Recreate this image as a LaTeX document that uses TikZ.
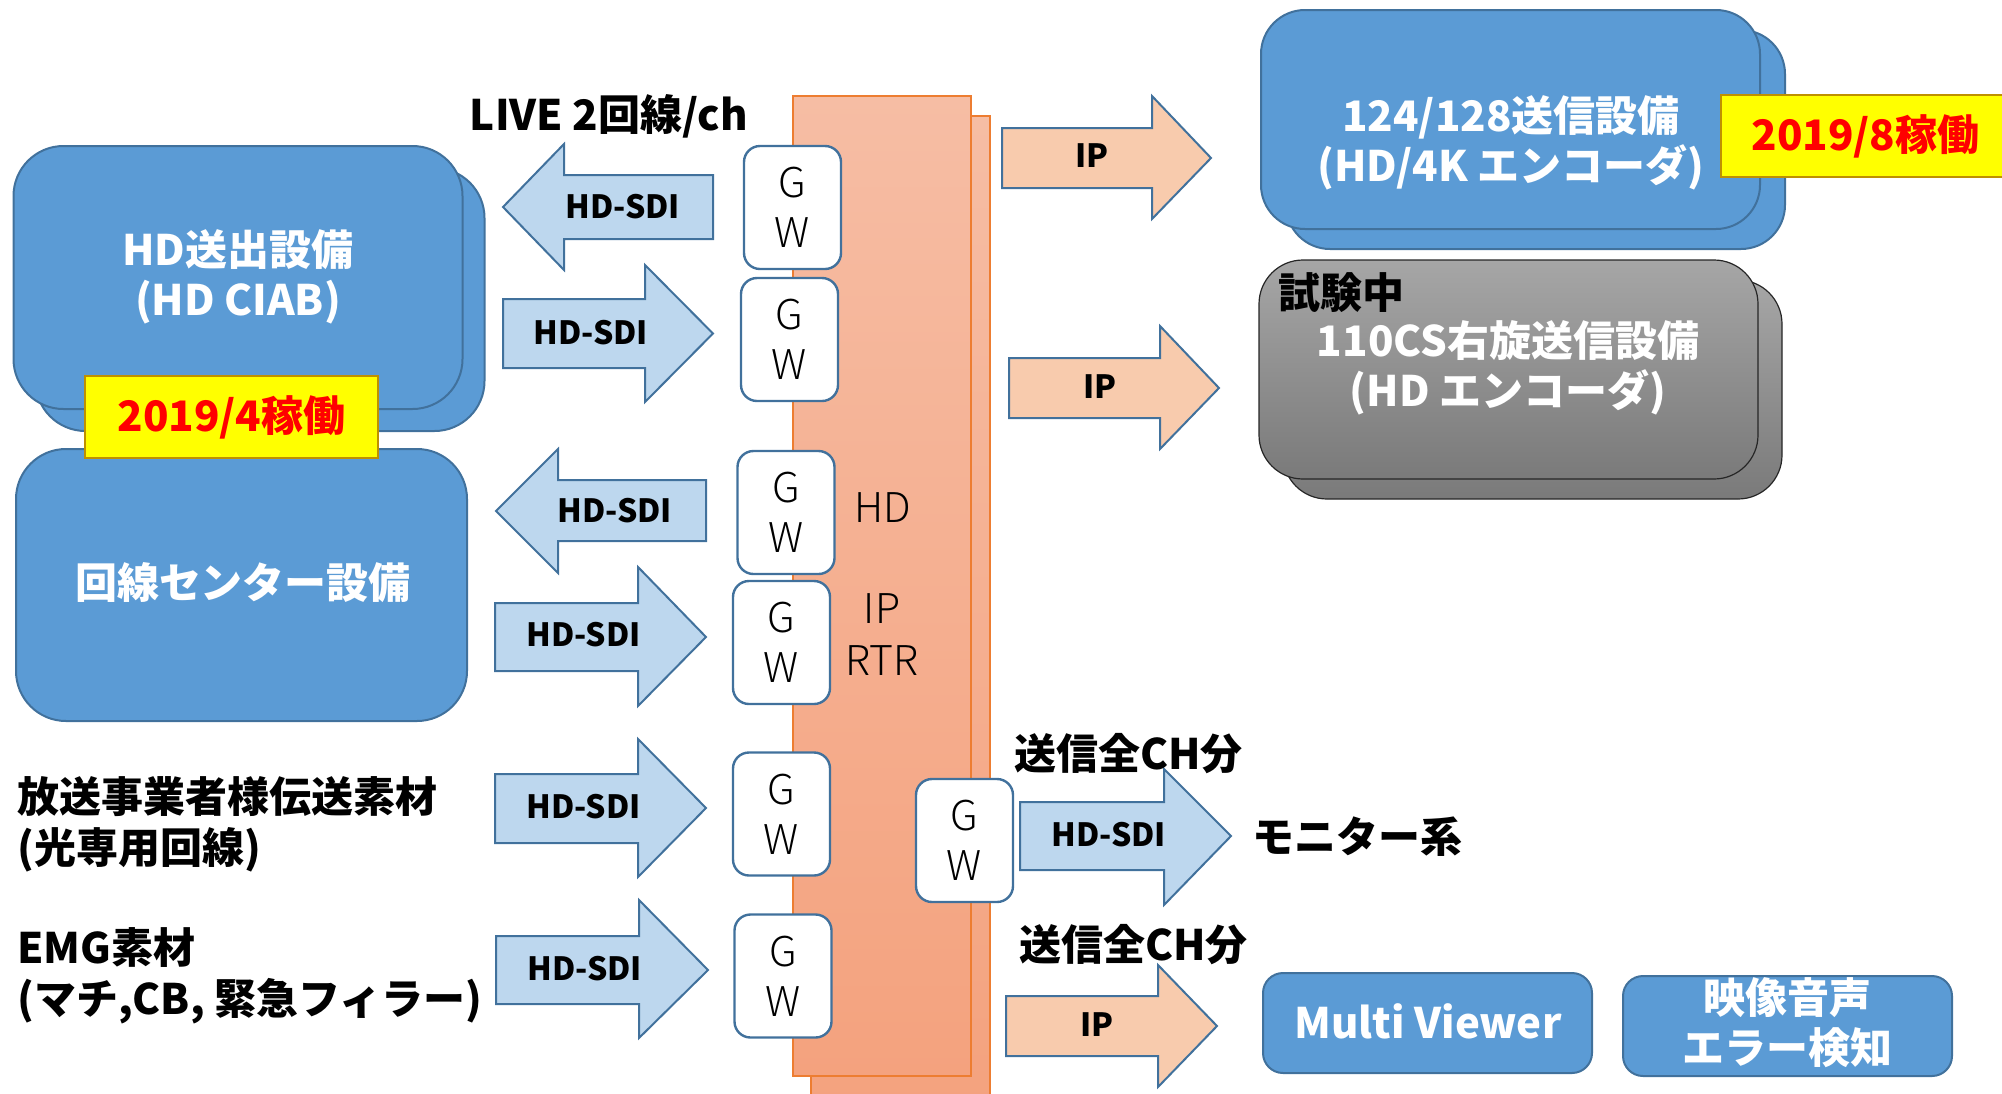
\documentclass[tikz,border=0pt]{standalone}
\usepackage{fontspec}
\setmainfont{Noto Sans CJK JP}
\newfontfamily\lightjp{Noto Sans CJK JP Light}
\definecolor{bdr}{HTML}{41719C}
\definecolor{bluef}{HTML}{5B9BD5}
\definecolor{sdif}{HTML}{BDD7EE}
\definecolor{ipf}{HTML}{F8CBAD}
\definecolor{rtrt}{HTML}{F6BDA4}
\definecolor{rtrb}{HTML}{F4A27E}
\definecolor{rtrl}{HTML}{ED7D31}
\definecolor{grayt}{HTML}{A6A6A6}
\definecolor{grayb}{HTML}{7A7A7A}
\definecolor{ybdr}{HTML}{BF9000}
\definecolor{yfill}{HTML}{FFFF00}
\definecolor{redt}{HTML}{FF0000}
\begin{document}
\begin{tikzpicture}[x=0.5pt,y=-0.5pt,
  bluebox/.style={draw=bdr, fill=bluef, line width=1pt, rounded corners=25pt, inner sep=0pt},
  smallbox/.style={draw=bdr, fill=bluef, line width=1pt, rounded corners=10pt, inner sep=0pt, minimum width=164.5pt, minimum height=50pt},
  graybox/.style={draw=black!85, line width=0.6pt, top color=grayt, bottom color=grayb, rounded corners=22pt, inner sep=0pt, minimum width=249.5pt, minimum height=109.5pt},
  rtrbox/.style={draw=rtrl, line width=0.8pt, top color=rtrt, bottom color=rtrb, inner sep=0pt},
  ybox/.style={draw=ybdr, fill=yfill, line width=1pt, inner sep=0pt, text=redt, font=\bfseries\fontsize{21}{25}\selectfont, minimum height=41pt},
  gw/.style={draw=bdr, fill=white, line width=1.2pt, rounded corners=8pt, minimum width=48.5pt, minimum height=61.5pt, inner sep=0pt, align=center, font=\lightjp\fontsize{20.5}{25}\selectfont},
  boxtext/.style={text=white, align=center, inner sep=0pt, font=\bfseries\fontsize{21}{25}\selectfont},
  lbl/.style={inner sep=0pt, font=\bfseries\fontsize{21}{25.5}\selectfont},
  rtrtext/.style={inner sep=0pt, align=center, font=\lightjp\fontsize{20.5}{26}\selectfont},
  sdi/.style={draw=bdr, fill=sdif, line width=1pt, line join=miter},
  iparr/.style={draw=bdr, fill=ipf, line width=1pt, line join=miter},
  arrlbl/.style={inner sep=0pt, font=\bfseries\fontsize{16}{19}\selectfont}
]
\useasboundingbox (0,0) rectangle (2002,1093);
\clip (0,0) rectangle (2002,1093);

% IP router (orange columns)
\node[rtrbox, minimum width=89.5pt, minimum height=497pt] (rtrback) at (900.5,613) {};
\node[rtrbox, minimum width=89pt, minimum height=490pt] (rtr) at (882,586) {};
\node[rtrtext] (hdl) at (882.5,508) {HD};
\node[rtrtext] (iprtr) at (882,635) {IP\\RTR};

% Left equipment
\node[bluebox, minimum width=224.5pt, minimum height=131.5pt] (hdback) at (260,299.5) {};
\node[bluebox, minimum width=224.5pt, minimum height=131.5pt] (hd) at (238,277.5) {};
\node[boxtext] (hdt) at (238,276.5) {HD送出設備\\(HD CIAB)};
\node[bluebox, minimum width=225.5pt, minimum height=136pt] (kaisen) at (241.5,585) {};
\node[boxtext] (kaisent) at (243,583) {回線センター設備};
\node[ybox, minimum width=146.5pt] (y1) at (231.5,417) {2019/4稼働};

% Right equipment
\node[bluebox, rounded corners=22pt, minimum width=249.5pt, minimum height=109.5pt] (encback) at (1535.5,139.5) {};
\node[bluebox, rounded corners=22pt, minimum width=249.5pt, minimum height=109.5pt] (enc) at (1510.5,119.5) {};
\node[boxtext] (enct) at (1511,143) {124/128送信設備\\(HD/4K エンコーダ)};
\node[ybox, minimum width=144.5pt] (y2) at (1865.5,136) {2019/8稼働};

\node[graybox] (csback) at (1532.5,389.5) {};
\node[graybox] (cs) at (1508.5,369.5) {};
\node[lbl, anchor=west] (test) at (1278,293) {試験中};
\node[boxtext] (cst) at (1508,367.5) {110CS右旋送信設備\\(HD エンコーダ)};

\node[smallbox] (mv) at (1427.5,1023) {};
\node[boxtext] (mvt) at (1428,1021) {Multi Viewer};
\node[smallbox] (err) at (1787.5,1026) {};
\node[boxtext] (errt) at (1787,1023) {映像音声\\エラー検知};

% GW boxes
\node[gw] (gw1) at (792.5,207.5) {G\\W};
\node[gw] (gw2) at (789.5,339.5) {G\\W};
\node[gw] (gw3) at (786,512.5) {G\\W};
\node[gw] (gw4) at (781.5,642.5) {G\\W};
\node[gw] (gw5) at (781.5,814) {G\\W};
\node[gw] (gw6) at (783,976) {G\\W};
\node[gw] (gw7) at (964.5,840.5) {G\\W};

% HD-SDI block arrows
\draw[sdi] (713,175) -- (564,175) -- (564,144) -- (503,207) -- (564,270) -- (564,239) -- (713,239) -- cycle;
\node[arrlbl] (a1) at (623,207) {HD-SDI};
\draw[sdi] (503,299) -- (645,299) -- (645,265) -- (713,333.5) -- (645,402) -- (645,368) -- (503,368) -- cycle;
\node[arrlbl] (a2) at (591,333) {HD-SDI};
\draw[sdi] (706,480) -- (558,480) -- (558,449) -- (496,511) -- (558,573) -- (558,541) -- (706,541) -- cycle;
\node[arrlbl] (a3) at (615,511) {HD-SDI};
\draw[sdi] (495,603) -- (638,603) -- (638,567) -- (706,637) -- (638,706) -- (638,671) -- (495,671) -- cycle;
\node[arrlbl] (a4) at (583.5,635) {HD-SDI};
\draw[sdi] (495,774) -- (638,774) -- (638,739) -- (706,808) -- (638,877) -- (638,843) -- (495,843) -- cycle;
\node[arrlbl] (a5) at (583.5,807) {HD-SDI};
\draw[sdi] (496,936) -- (639,936) -- (639,900) -- (708,970) -- (639,1038) -- (639,1004) -- (496,1004) -- cycle;
\node[arrlbl] (a6) at (585,969) {HD-SDI};
\draw[sdi] (1020,802) -- (1164,802) -- (1164,769) -- (1231,836) -- (1164,905) -- (1164,870) -- (1020,870) -- cycle;
\node[arrlbl] (a7) at (1109,835) {HD-SDI};

% IP block arrows
\draw[iparr] (1002,128) -- (1152,128) -- (1152,96) -- (1211,158) -- (1152,219) -- (1152,188) -- (1002,188) -- cycle;
\node[arrlbl] (ip1) at (1092,156) {IP};
\draw[iparr] (1009,358) -- (1160,358) -- (1160,326) -- (1219,388) -- (1160,449) -- (1160,418) -- (1009,418) -- cycle;
\node[arrlbl] (ip2) at (1100,387) {IP};
\draw[iparr] (1006,996) -- (1158,996) -- (1158,965) -- (1217,1026) -- (1158,1087) -- (1158,1056) -- (1006,1056) -- cycle;
\node[arrlbl] (ip3) at (1097,1025) {IP};

% Free labels
\node[lbl] (live) at (609,116) {LIVE 2回線/ch};
\node[lbl, anchor=west, align=left] (src1) at (17,824.5) {放送事業者様伝送素材\\(光専用回線)};
\node[lbl, anchor=west, align=left] (src2) at (17,976) {EMG素材\\(マチ,CB, 緊急フィラー)};
\node[lbl] (all1) at (1128.5,754) {送信全CH分};
\node[lbl] (all2) at (1133.5,945) {送信全CH分};
\node[lbl, anchor=west] (mon) at (1252,837) {モニター系};
\end{tikzpicture}
\end{document}
